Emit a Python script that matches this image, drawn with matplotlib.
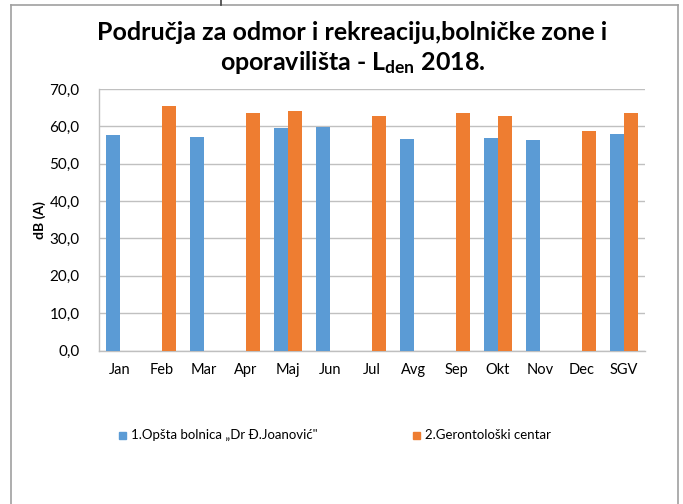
import matplotlib
matplotlib.use("Agg")
import matplotlib.pyplot as plt
import numpy as np
from matplotlib.patches import Rectangle
from matplotlib.lines import Line2D

FONT = "Lato"
plt.rcParams['font.family'] = [FONT, 'DejaVu Sans']
plt.rcParams['mathtext.fontset'] = 'custom'
plt.rcParams['mathtext.rm'] = FONT
plt.rcParams['mathtext.bf'] = FONT + ':bold'
plt.rcParams['mathtext.it'] = FONT + ':italic'

months = ["Jan", "Feb", "Mar", "Apr", "Maj", "Jun", "Jul", "Avg", "Sep", "Okt", "Nov", "Dec", "SGV"]
bolnica = [57.7, np.nan, 57.1, np.nan, 59.5, 59.7, np.nan, 56.7, np.nan, 56.9, 56.3, np.nan, 57.9]
gerontoloski = [np.nan, 65.5, np.nan, 63.5, 64.2, np.nan, 62.9, np.nan, 63.7, 62.9, np.nan, 58.8, 63.5]
series_names = ["1.Opšta bolnica „Dr Đ.Joanović\"", "2.Gerontološki centar"]
yticks = [0, 10, 20, 30, 40, 50, 60, 70]
ytick_labels = ["0,0", "10,0", "20,0", "30,0", "40,0", "50,0", "60,0", "70,0"]

BLUE = "#5B9BD5"
ORANGE = "#EE7D31"
GRID = "#C0C0C0"

W, H = 683, 504
fig = plt.figure(figsize=(W / 100, H / 100), dpi=100)
fig.patch.set_facecolor("white")

# chart border
fig.add_artist(Line2D([11 / W, 11 / W], [0, 1 - 5 / H], color="#A0A0A0", lw=1.2, transform=fig.transFigure))
fig.add_artist(Line2D([678 / W, 678 / W], [0, 1 - 5 / H], color="#A0A0A0", lw=1.2, transform=fig.transFigure))
fig.add_artist(Line2D([11 / W, 678 / W], [1 - 5 / H, 1 - 5 / H], color="#A0A0A0", lw=1.2, transform=fig.transFigure))
fig.add_artist(Line2D([221 / W, 221 / W], [1 - 5 / H, 1], color="#404040", lw=1.2, transform=fig.transFigure))

left, right, top, bottom = 99, 645, 89, 350.5
ax = fig.add_axes([left / W, 1 - bottom / H, (right - left) / W, (bottom - top) / H])

x = np.arange(len(months))
bw = 0.34
ax.bar(x - bw / 2, bolnica, width=bw, color=BLUE, zorder=3)
ax.bar(x + bw / 2, gerontoloski, width=bw, color=ORANGE, zorder=3)

ax.set_xlim(-0.5, len(months) - 0.5)
ax.set_ylim(0, 70)
ax.set_yticks(yticks)
ax.set_yticklabels(ytick_labels, fontsize=11)
ax.set_xticks(x)
ax.set_xticklabels(months, fontsize=10.5)
ax.tick_params(axis="both", length=0, pad=9)
ax.tick_params(axis="y", pad=14)
ax.yaxis.grid(True, color=GRID, lw=1.0, zorder=0)
for s in ["top", "right"]:
    ax.spines[s].set_visible(False)
for s in ["left", "bottom"]:
    ax.spines[s].set_color("#BFBFBF")
    ax.spines[s].set_linewidth(1.0)

fig.text(40 / W, 1 - 220 / H, "dB (A)", rotation=90, fontsize=10, fontweight="bold",
         ha="center", va="center")

fig.text(352 / W, 1 - 33 / H, "Područja za odmor i rekreaciju,bolničke zone i",
         fontsize=18, fontweight="bold", ha="center", va="center")
fig.text(353 / W, 1 - 63 / H, r"oporavilišta - L$_{\mathbf{den}}$ 2018.",
         fontsize=18, fontweight="bold", ha="center", va="center")

# legend
for (xs, color, name) in [(119, BLUE, series_names[0]), (413, ORANGE, series_names[1])]:
    fig.add_artist(Rectangle((xs / W, 1 - 439 / H), 7 / W, 7 / H, color=color,
                             transform=fig.transFigure))
    fig.text((xs + 12) / W, 1 - 435 / H, name, fontsize=9.5, ha="left", va="center")

fig.savefig("out.png", dpi=100, facecolor="white")
